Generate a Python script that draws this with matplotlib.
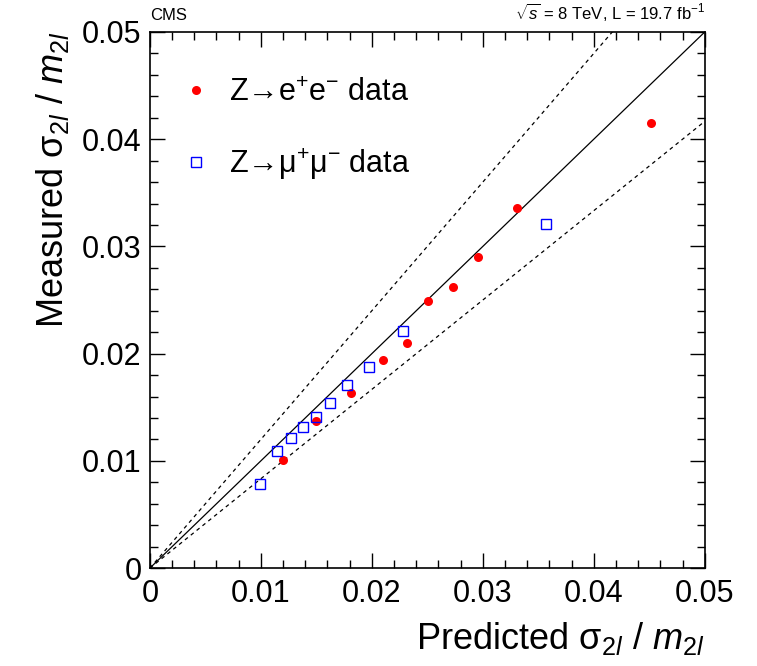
import matplotlib
matplotlib.use("Agg")
import matplotlib.pyplot as plt
import numpy as np

plt.rcParams['font.family'] = ['Liberation Sans', 'DejaVu Sans']
plt.rcParams['mathtext.fontset'] = 'custom'
plt.rcParams['mathtext.rm'] = 'Liberation Sans'
plt.rcParams['mathtext.it'] = 'Liberation Sans:italic'
plt.rcParams['mathtext.bf'] = 'Liberation Sans:bold'

# Data
ee_pred = [0.01198, 0.01495, 0.0181, 0.0210, 0.02315, 0.0251, 0.0273, 0.02955, 0.0331, 0.0452]
ee_meas = [0.01007, 0.0137, 0.0163, 0.0194, 0.0210, 0.0249, 0.0262, 0.0290, 0.0336, 0.0415]
mm_pred = [0.0099, 0.01142, 0.0127, 0.01384, 0.01493, 0.0162, 0.01775, 0.0197, 0.0228, 0.0357]
mm_meas = [0.0078, 0.0109, 0.0121, 0.0132, 0.0141, 0.0154, 0.0171, 0.0188, 0.0221, 0.0321]
ticks = [0, 0.01, 0.02, 0.03, 0.04, 0.05]
tick_labels = ["0", "0.01", "0.02", "0.03", "0.04", "0.05"]
band = 1.2

fig = plt.figure(figsize=(7.57, 6.66), dpi=100)
ax = fig.add_axes([0.198, 0.147, 0.733, 0.805])

xx = np.array([0, 0.05])
ax.plot(xx, xx, color='black', lw=0.9)
ax.plot(xx, band * xx, color='black', lw=0.9, ls=(0, (3, 3)))
ax.plot(xx, xx / band, color='black', lw=0.9, ls=(0, (3, 3)))

ax.plot(ee_pred, ee_meas, 'o', color='red', markersize=6.5, mew=0, label='Z→e$^{+}$e$^{-}$ data', zorder=3)
ax.plot(mm_pred, mm_meas, 's', mfc='none', mec='blue', markersize=7, mew=1.0, label='Z→μ$^{+}$μ$^{-}$ data', zorder=3)

ax.set_xlim(0, 0.05)
ax.set_ylim(0, 0.05)
ax.set_xticks(ticks)
ax.set_xticklabels(tick_labels)
ax.set_yticks(ticks)
ax.set_yticklabels(tick_labels)
ax.set_xticks(np.arange(0, 0.0501, 0.002), minor=True)
ax.set_yticks(np.arange(0, 0.0501, 0.002), minor=True)
ax.tick_params(which='both', direction='in', top=True, right=True, labelsize=22)
ax.tick_params(which='major', length=11, width=1)
ax.tick_params(which='minor', length=5.5, width=1)
ax.tick_params(axis='x', pad=8)
ax.tick_params(axis='y', pad=6)
for s in ax.spines.values():
    s.set_linewidth(1.2)

ax.set_xlabel('Predicted σ$_{2\\mathit{l}}$ / $\\mathit{m}_{2\\mathit{l}}$', fontsize=26, loc='right', labelpad=8)
ax.set_ylabel('Measured σ$_{2\\mathit{l}}$ / $\\mathit{m}_{2\\mathit{l}}$', fontsize=26, loc='top', labelpad=8)

leg = ax.legend(loc='upper left', bbox_to_anchor=(0.011, 0.96), frameon=False, fontsize=22,
                handletextpad=0.6, labelspacing=1.25, handlelength=1.0, borderpad=0.3)

fig.text(0.198, 0.965, 'CMS', fontsize=12, ha='left', va='bottom')
fig.text(0.931, 0.965, r'$\sqrt{s}$ = 8 TeV, L = 19.7 fb$^{-1}$', fontsize=12, ha='right', va='bottom')

fig.savefig('out.png', dpi=100)
